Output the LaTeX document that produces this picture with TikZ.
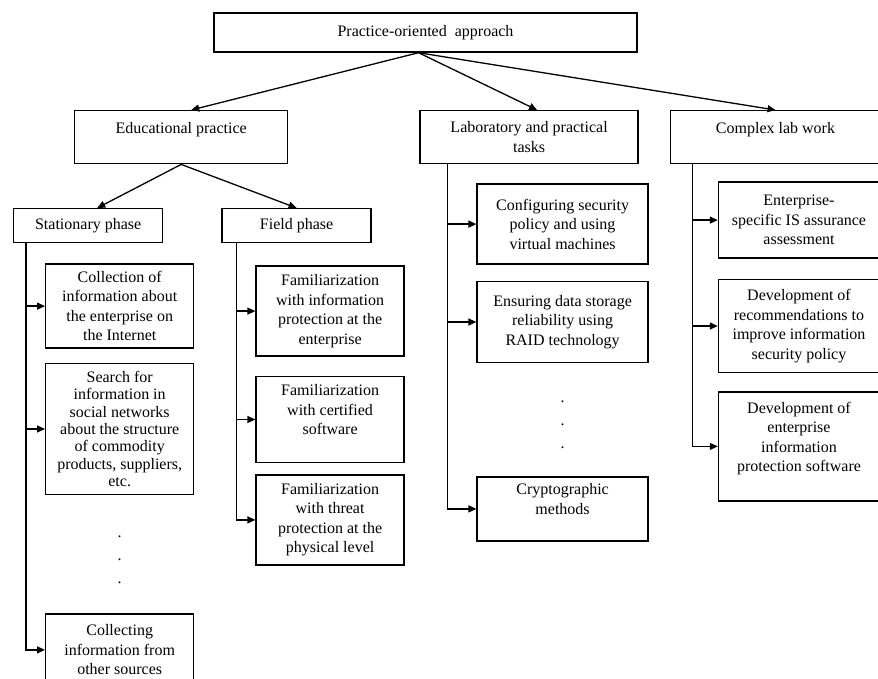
\documentclass[tikz,border=0pt]{standalone}
\usepackage{fontspec}
\setmainfont{Liberation Serif}
\usetikzlibrary{arrows.meta, positioning, calc}

\begin{document}
\begin{tikzpicture}[
  x=1pt, y=-1pt,
  box/.style={draw, line width=1.4pt, rectangle, inner sep=0pt, align=center,
    font=\fontsize{16pt}{19.5pt}\selectfont},
  % header boxes of the three branches
  headbox/.style={box, minimum height=53pt},
  phasebox/.style={box, minimum width=149pt, minimum height=34pt},
  % leaf boxes under each branch
  leafbox/.style={box, minimum width=148pt},
  labbox/.style={box, minimum width=171pt},
  workbox/.style={box, minimum width=161pt},
  dotsbox/.style={align=center, inner sep=0pt, font=\fontsize{16pt}{23pt}\selectfont},
  arr/.style={line width=1.3pt, -{Triangle[length=8pt,width=7pt]}}
]
\clip (0,0) rectangle (878,678);

% Top - root node
\node[box, minimum width=423pt, minimum height=39pt] (root) at (425.5,32.5) {Practice-oriented\ \ approach};
\coordinate (fork) at ([xshift=-7pt]root.south);

% Second level
\node[headbox, minimum width=213pt, anchor=north west] (edu) at (74,110) {Educational practice\\~};
\node[headbox, minimum width=218pt, right=131pt of edu] (lab) {Laboratory and practical\\tasks};
\node[headbox, minimum width=210pt, right=31pt of lab] (cplx) {Complex lab work\\~};

% Educational practice - phases
\node[phasebox, anchor=north west] (stat) at (13,208) {Stationary phase};
\node[phasebox, right=58pt of stat] (field) {Field phase};

% Stationary phase column
\node[leafbox, minimum height=84pt, below right=20pt and 32pt of stat.south west] (s1) {Collection of\\information about\\the enterprise on\\the Internet};
\node[leafbox, minimum height=131pt, below=14pt of s1, font=\fontsize{16pt}{17.4pt}\selectfont] (s2) {Search for\\information in\\social networks\\about the structure\\of commodity\\products, suppliers,\\etc.};
\node[leafbox, minimum height=72pt, below=118pt of s2] (s3) {Collecting\\information from\\other sources};
\node[dotsbox] (sdots) at ([yshift=-6pt]$(s2.south)!0.5!(s3.north)$) {.\\.\\.};

% Field phase column
\node[leafbox, minimum height=90pt, below right=22pt and 34pt of field.south west] (f1) {Familiarization\\with information\\protection at the\\enterprise};
\node[leafbox, minimum height=86pt, below=19pt of f1] (f2) {Familiarization\\with certified\\software\\~};
\node[leafbox, minimum height=90pt, below=11pt of f2] (f3) {Familiarization\\with threat\\protection at the\\physical level};

% Laboratory column
\node[labbox, minimum height=80pt, below right=19pt and 57pt of lab.south west] (c1) {Configuring security\\policy and using\\virtual machines};
\node[labbox, minimum height=81pt, below=16pt of c1] (c2) {Ensuring data storage\\reliability using\\RAID technology};
\node[labbox, minimum height=64pt, below=113pt of c2] (c3) {Cryptographic\\methods\\~};
\node[dotsbox] (ldots) at ([yshift=-5pt]$(c2.south)!0.5!(c3.north)$) {.\\.\\.};

% Complex lab work column
\node[workbox, minimum height=76pt, below right=17pt and 48pt of cplx.south west] (x1) {Enterprise-\\specific IS assurance\\assessment};
\node[workbox, minimum height=93pt, below=20pt of x1] (x2) {Development of\\recommendations to\\improve information\\security policy};
\node[workbox, minimum height=109pt, below=18pt of x2] (x3) {Development of\\enterprise\\information\\protection software\\~};

% Arrows from the root and from Educational practice
\draw[arr] (fork) -- ([xshift=10pt]edu.north);
\draw[arr] (fork) -- ([xshift=8pt]lab.north);
\draw[arr] (fork) -- (cplx.north);
\draw[arr] (edu.south) -- ([xshift=9pt]stat.north);
\draw[arr] (edu.south) -- (field.north);

% Trunk lines with branch arrows
\coordinate (statbus) at ([xshift=13pt]stat.south west);
\coordinate (fieldbus) at ([xshift=15pt]field.south west);
\coordinate (labbus) at ([xshift=28pt]lab.south west);
\coordinate (cplxbus) at ([xshift=23pt]cplx.south west);
\foreach \b/\n in {statbus/s1, statbus/s2, statbus/s3,
                   fieldbus/f1, fieldbus/f2, fieldbus/f3,
                   labbus/c1, labbus/c2, labbus/c3,
                   cplxbus/x1, cplxbus/x2, cplxbus/x3}
  \draw[arr] (\b) |- (\n.west);
\end{tikzpicture}
\end{document}
